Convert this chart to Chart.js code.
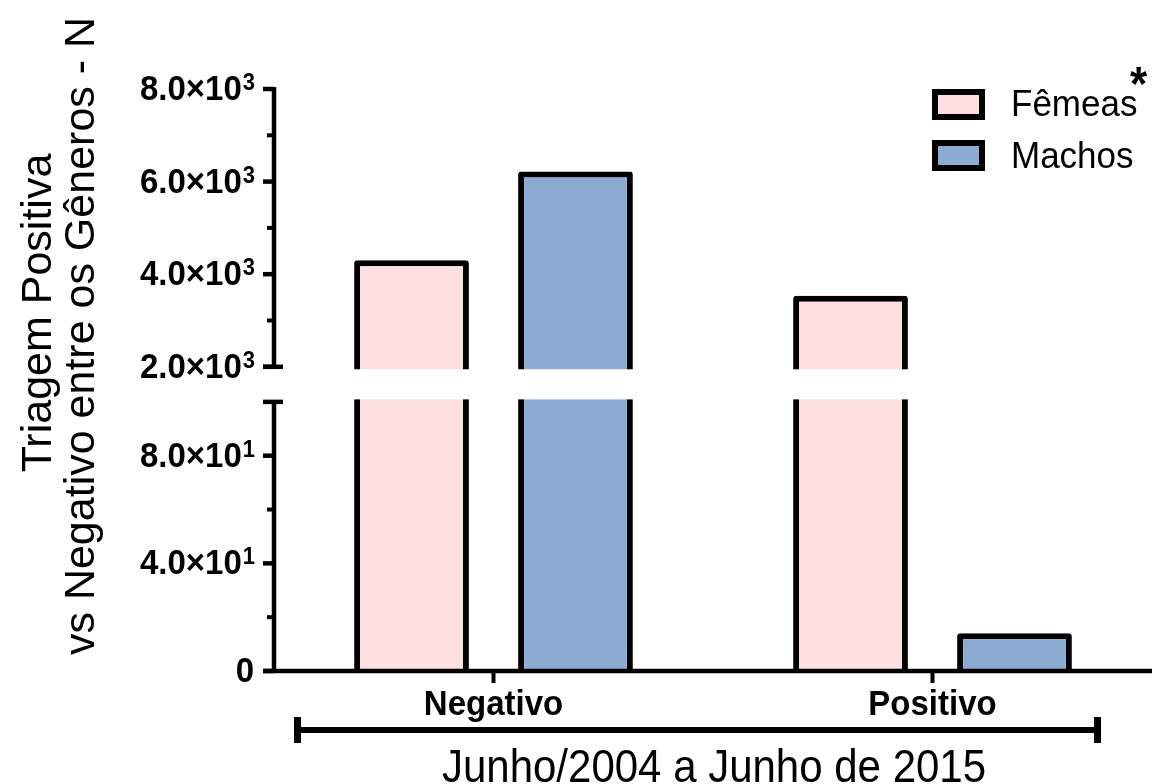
<!DOCTYPE html>
<html>
<head>
<meta charset="utf-8">
<script src="https://cdn.jsdelivr.net/npm/chart.js@4.4.1/dist/chart.umd.min.js"></script>
<style>
  html, body { margin: 0; padding: 0; background: #fff; }
  #c { display: block; }
</style>
</head>
<body>
<canvas id="c" width="1154" height="784"></canvas>
<script>
// data
const categories = ['Negativo', 'Positivo'];
const seriesNames = ['Fêmeas', 'Machos'];
const femeas = [4300, 3535];
const machos = [6220, 14];
const seriesColors = ['#FDDFE1', '#8CABD3'];

// broken axis: lower segment 0..100, upper segment 2000..8000
const lowTicks = [0, 40, 80];
const lowTickLabels = [['0', ''], ['4.0×10', '1'], ['8.0×10', '1']];
const lowMinor = [20, 60];
const highTicks = [2000, 4000, 6000, 8000];
const highTickLabels = [['2.0×10', '3'], ['4.0×10', '3'], ['6.0×10', '3'], ['8.0×10', '3']];
const highMinor = [3000, 5000, 7000];
const LOW_MAX = 100, HIGH_MIN = 2000;
const LOW_FRAC = 0.4624, GAP_FRAC = 0.0603;

const yTitle = ['Triagem Positiva', 'vs Negativo entre os Gêneros - N'];
const xTitle = 'Junho/2004 a Junho de 2015';

const FONT = '"Liberation Sans", Arial, sans-serif';
const STRETCH = 1.08; // glyphs in the figure are a little taller than plain Arial

class BrokenScale extends Chart.LinearScale {
  segs() {
    const h = this.bottom - this.top;
    const low = h * LOW_FRAC, gap = h * GAP_FRAC;
    return { low, gap, high: h - low - gap };
  }
  getPixelForValue(v) {
    const s = this.segs();
    if (v <= LOW_MAX) return this.bottom - (v - this.min) / (LOW_MAX - this.min) * s.low;
    if (v < HIGH_MIN) return this.bottom - s.low - (v - LOW_MAX) / (HIGH_MIN - LOW_MAX) * s.gap;
    return this.bottom - s.low - s.gap - (v - HIGH_MIN) / (this.max - HIGH_MIN) * s.high;
  }
  getValueForPixel(p) {
    const s = this.segs();
    const d = this.bottom - p;
    if (d <= s.low) return this.min + d / s.low * (LOW_MAX - this.min);
    if (d <= s.low + s.gap) return LOW_MAX + (d - s.low) / s.gap * (HIGH_MIN - LOW_MAX);
    return HIGH_MIN + (d - s.low - s.gap) / s.high * (this.max - HIGH_MIN);
  }
}
BrokenScale.id = 'broken';
BrokenScale.defaults = {};
Chart.register(BrokenScale);

function line(ctx, x1, y1, x2, y2, w) {
  ctx.lineWidth = w;
  ctx.beginPath();
  ctx.moveTo(x1, y1);
  ctx.lineTo(x2, y2);
  ctx.stroke();
}

// text stretched a bit vertically around its baseline
function text(ctx, s, x, y) {
  ctx.save();
  ctx.translate(x, y);
  ctx.scale(1, STRETCH);
  ctx.fillText(s, 0, 0);
  ctx.restore();
}

const breakPlugin = {
  id: 'breakPlugin',
  afterDatasetsDraw(chart) {
    const ctx = chart.ctx, y = chart.scales.y, a = chart.chartArea;
    const top = y.getPixelForValue(HIGH_MIN) + 2.5;
    const bot = y.getPixelForValue(LOW_MAX) - 2.5;
    ctx.save();
    ctx.fillStyle = '#fff';
    ctx.fillRect(a.left - 20, top, a.right - a.left + 40, bot - top);
    ctx.restore();
  },
  afterDraw(chart) {
    const ctx = chart.ctx, y = chart.scales.y, x = chart.scales.x, a = chart.chartArea;
    const ax = a.left;
    ctx.save();
    ctx.strokeStyle = '#000';
    ctx.fillStyle = '#000';
    ctx.lineCap = 'butt';

    // y axis segments
    const p0 = y.getPixelForValue(0), pLow = y.getPixelForValue(LOW_MAX);
    const pHigh = y.getPixelForValue(HIGH_MIN), pTop = y.getPixelForValue(8000);
    line(ctx, ax, p0 + 2, ax, pLow, 4.5);
    line(ctx, ax, pHigh, ax, pTop - 2, 4.5);
    line(ctx, ax - 11, pLow, ax + 9, pLow, 4.5);
    line(ctx, ax - 11, pHigh, ax + 9, pHigh, 4.5);
    lowTicks.concat(highTicks).forEach(v => {
      const py = y.getPixelForValue(v);
      line(ctx, ax - 11, py, ax, py, 4.5);
    });
    lowMinor.concat(highMinor).forEach(v => {
      const py = y.getPixelForValue(v);
      line(ctx, ax - 7, py, ax, py, 4);
    });

    // x axis
    line(ctx, ax - 11, p0, a.right, p0, 4.5);
    categories.forEach((c, i) => {
      const px = x.getPixelForValue(i);
      line(ctx, px, p0, px, p0 + 12, 4);
    });

    // y tick labels with superscript exponent
    const drawTickLabel = (v, lab) => {
      const py = y.getPixelForValue(v);
      const right = ax - 19;
      ctx.textAlign = 'right';
      ctx.textBaseline = 'alphabetic';
      let supW = 0;
      if (lab[1]) {
        ctx.font = 'bold 22px ' + FONT;
        supW = ctx.measureText(lab[1]).width;
        text(ctx, lab[1], right, py + 1);
      }
      ctx.font = 'bold 33px ' + FONT;
      text(ctx, lab[0], right - supW - 1, py + 11);
    };
    lowTicks.forEach((v, i) => drawTickLabel(v, lowTickLabels[i]));
    highTicks.forEach((v, i) => drawTickLabel(v, highTickLabels[i]));

    // category labels
    ctx.font = 'bold 33px ' + FONT;
    ctx.textAlign = 'center';
    categories.forEach((c, i) => {
      text(ctx, c, x.getPixelForValue(i), 715);
    });

    // bracket below categories
    line(ctx, 294, 730, 1101, 730, 6);
    line(ctx, 297.5, 717, 297.5, 743, 7);
    line(ctx, 1097.5, 717, 1097.5, 743, 7);

    // x title
    ctx.font = '42px ' + FONT;
    text(ctx, xTitle, 714, 782);

    // y title (two rotated lines)
    ctx.font = '43px ' + FONT;
    ctx.save();
    ctx.translate(51, 313);
    ctx.rotate(-Math.PI / 2);
    ctx.fillText(yTitle[0], 0, 0);
    ctx.restore();
    ctx.save();
    ctx.translate(94, 336);
    ctx.rotate(-Math.PI / 2);
    ctx.fillText(yTitle[1], 0, 0);
    ctx.restore();

    // legend
    const boxes = [92, 143];
    const bases = [116, 168];
    chart.data.datasets.forEach((ds, i) => {
      ctx.fillStyle = ds.backgroundColor;
      ctx.fillRect(935, boxes[i], 47, 25);
      ctx.lineWidth = 6;
      ctx.strokeRect(935, boxes[i], 47, 25);
      ctx.fillStyle = '#000';
      ctx.font = '35px ' + FONT;
      ctx.textAlign = 'left';
      text(ctx, ds.label, 1011, bases[i]);
    });
    ctx.font = 'bold 44px ' + FONT;
    ctx.textAlign = 'left';
    text(ctx, '*', 1130, 100);

    ctx.restore();
  }
};

new Chart(document.getElementById('c'), {
  type: 'bar',
  data: {
    labels: categories,
    datasets: [
      { label: seriesNames[0], data: femeas, backgroundColor: seriesColors[0] },
      { label: seriesNames[1], data: machos, backgroundColor: seriesColors[1] }
    ]
  },
  options: {
    responsive: false,
    animation: false,
    devicePixelRatio: 1,
    layout: { padding: { left: 274, right: 2, top: 89, bottom: 113 } },
    datasets: {
      bar: {
        borderColor: '#000',
        borderWidth: 6,
        borderRadius: 3,
        borderSkipped: 'start',
        categoryPercentage: 0.747,
        barPercentage: 0.70
      }
    },
    plugins: { legend: { display: false }, tooltip: { enabled: false } },
    scales: {
      x: { type: 'category', display: false, offset: true },
      y: { type: 'broken', display: false, min: 0, max: 8000 }
    }
  },
  plugins: [breakPlugin]
});
</script>
</body>
</html>
